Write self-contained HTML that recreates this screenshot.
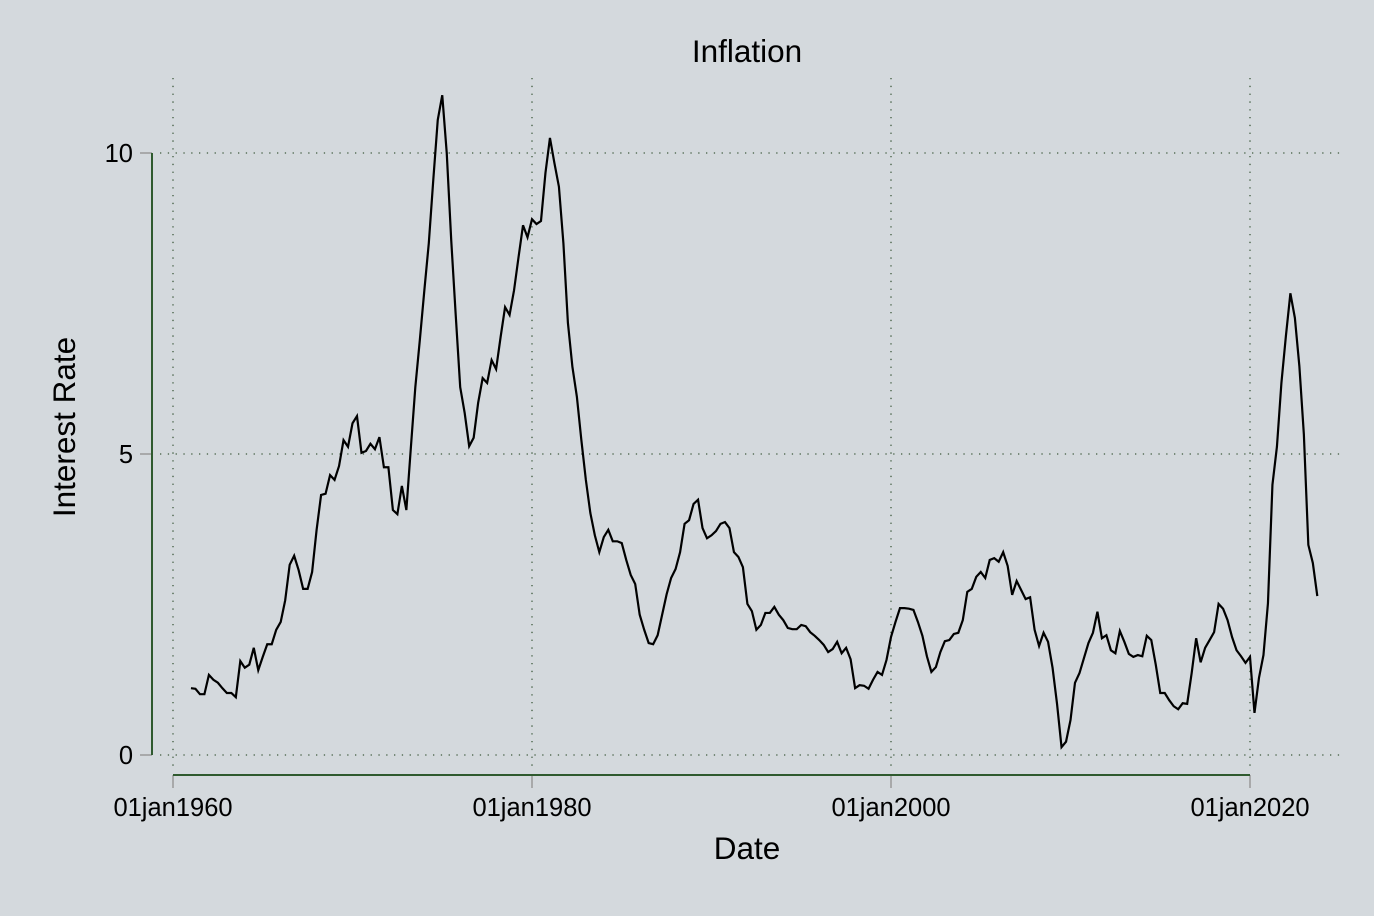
<!DOCTYPE html>
<html><head><meta charset="utf-8"><style>
body{margin:0;background:#d4d9dd;}
svg{display:block;font-family:"Liberation Sans",sans-serif;}
</style></head><body>
<svg id="chart" width="1374" height="916">
<rect width="1374" height="916" fill="#d4d9dd"/>
<text x="747" y="62" font-size="31.5" text-anchor="middle" fill="#000">Inflation</text>
<text x="747" y="859" font-size="31.5" text-anchor="middle" fill="#000">Date</text>
<text transform="translate(75,427) rotate(-90)" font-size="31.5" text-anchor="middle" fill="#000">Interest Rate</text>
<g id="grid"></g><g id="axes"></g><g id="series"></g>
</svg>
<script>
const yTicks=[0,5,10];
const xTickYears=[1960,1980,2000,2020];
const xTickLabels=["01jan1960","01jan1980","01jan2000","01jan2020"];
const endDate=2023.75;
const values=[1.11,1.10,1.01,1.01,1.33,1.25,1.20,1.11,1.03,1.03,0.96,1.56,1.45,1.50,1.78,1.41,1.63,1.84,1.84,2.08,2.21,2.57,3.16,3.31,3.07,2.76,2.76,3.04,3.74,4.32,4.34,4.65,4.57,4.80,5.23,5.12,5.51,5.63,5.02,5.05,5.17,5.08,5.28,4.78,4.78,4.07,4.00,4.47,4.07,5.10,6.11,6.89,7.71,8.50,9.55,10.55,10.96,10.0,8.55,7.31,6.11,5.68,5.13,5.27,5.85,6.26,6.18,6.56,6.41,6.94,7.44,7.31,7.72,8.27,8.80,8.60,8.90,8.82,8.87,9.67,10.25,9.83,9.44,8.50,7.18,6.45,5.95,5.23,4.57,4.02,3.65,3.37,3.62,3.74,3.55,3.55,3.52,3.24,2.99,2.84,2.33,2.08,1.86,1.84,1.99,2.33,2.67,2.94,3.09,3.37,3.84,3.90,4.17,4.24,3.77,3.60,3.65,3.72,3.84,3.87,3.77,3.37,3.29,3.12,2.51,2.39,2.08,2.16,2.36,2.36,2.46,2.33,2.24,2.11,2.09,2.09,2.16,2.14,2.04,1.98,1.91,1.83,1.71,1.76,1.88,1.69,1.78,1.59,1.11,1.16,1.15,1.10,1.25,1.38,1.33,1.58,1.96,2.21,2.44,2.44,2.43,2.41,2.21,1.98,1.64,1.38,1.46,1.71,1.89,1.91,2.01,2.03,2.24,2.71,2.76,2.96,3.04,2.94,3.24,3.27,3.21,3.37,3.14,2.66,2.89,2.74,2.59,2.62,2.08,1.81,2.03,1.88,1.45,0.85,0.13,0.22,0.58,1.20,1.36,1.61,1.86,2.03,2.38,1.94,1.99,1.74,1.69,2.06,1.88,1.68,1.63,1.66,1.64,1.98,1.91,1.50,1.03,1.03,0.91,0.81,0.76,0.86,0.85,1.36,1.94,1.54,1.78,1.91,2.04,2.51,2.43,2.24,1.96,1.74,1.64,1.53,1.63,0.70,1.28,1.66,2.52,4.49,5.12,6.18,6.96,7.67,7.26,6.46,5.33,3.49,3.19,2.64];

const NS="http://www.w3.org/2000/svg";
function xs(yr){return 173+(yr-1960)*(1250-173)/60;}
function ys(v){return 755-v*(755-153)/10;}
function mk(tag,attrs,parent){const e=document.createElementNS(NS,tag);for(const k in attrs)e.setAttribute(k,attrs[k]);parent.appendChild(e);return e;}
const grid=document.getElementById('grid'),axes=document.getElementById('axes'),series=document.getElementById('series');

yTicks.forEach(v=>{
  const g=mk('line',{x1:160,x2:1342,y1:ys(v),y2:ys(v),stroke:'#3d5a3d','stroke-width':1.3,'stroke-dasharray':'1.3 6.5'},grid);
  
  
  const t=mk('line',{x1:140,x2:152,y1:ys(v),y2:ys(v),stroke:'#999','stroke-width':1.5},axes);
  
  
  const l=mk('text',{x:133,y:ys(v)+9,'font-size':25.5,'text-anchor':'end',fill:'#000'},axes);
  l.textContent=v;
  
  
});
xTickYears.forEach((yr,i)=>{
  const g=mk('line',{x1:xs(yr),x2:xs(yr),y1:78,y2:768,stroke:'#3d5a3d','stroke-width':1.3,'stroke-dasharray':'1.3 6.5'},grid);
  
  
  const t=mk('line',{x1:xs(yr),x2:xs(yr),y1:775,y2:788,stroke:'#999','stroke-width':1.5},axes);
  
  
  const l=mk('text',{x:xs(yr),y:816,'font-size':25.5,'text-anchor':'middle',fill:'#000'},axes);
  l.textContent=xTickLabels[i];
  
  
});
const ya=mk('line',{x1:152,x2:152,y1:ys(10),y2:ys(0),stroke:'#2f5a2f','stroke-width':2},axes);


const xa=mk('line',{x1:xs(1960),x2:xs(2020),y1:775,y2:775,stroke:'#2f5a2f','stroke-width':2},axes);



const start=endDate-0.25*(values.length-1);
const pts=values.map((v,i)=>xs(start+0.25*i).toFixed(2)+','+ys(v).toFixed(2)).join(' ');
const pl=mk('polyline',{points:pts,fill:'none',stroke:'#000','stroke-width':2.2,'stroke-linejoin':'miter'},series);


</script>
</body></html>
